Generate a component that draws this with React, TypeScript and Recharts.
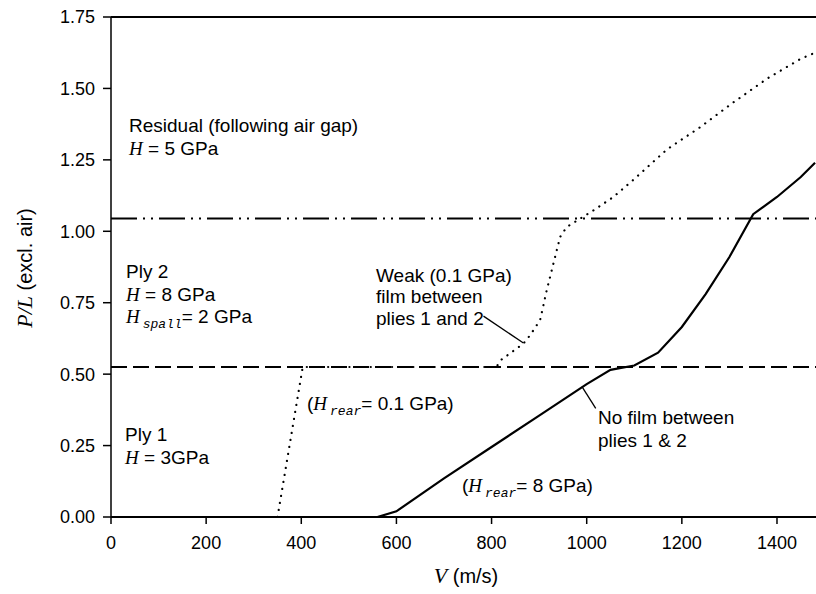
import { Customized, Line, LineChart, ReferenceLine, XAxis, YAxis } from 'recharts'

const SANS = "'Liberation Sans', Arial, Helvetica, sans-serif"
const SERIF = "'Liberation Serif', 'Times New Roman', serif"
const MONO = "'Liberation Mono', 'Courier New', monospace"

const xTicks = [0, 200, 400, 600, 800, 1000, 1200, 1400]
const yTicks = [0, 0.25, 0.5, 0.75, 1, 1.25, 1.5, 1.75]

// ply boundaries, P/L
const ply1Top = 0.525
const ply2Top = 1.045
const residualTop = 1.75

// no film between plies 1 & 2 (H_rear = 8 GPa)
const noFilmV = [0, 560, 600, 700, 800, 900, 1000, 1050, 1100, 1150, 1200, 1250, 1300, 1350, 1400, 1450, 1480]
const noFilmPL = [0, 0, 0.02, 0.135, 0.245, 0.355, 0.465, 0.515, 0.53, 0.575, 0.665, 0.78, 0.91, 1.06, 1.12, 1.19, 1.24]

// weak (0.1 GPa) film between plies 1 and 2 (H_rear = 0.1 GPa)
const weakV = [350, 403, 810, 820, 867, 881, 902, 916, 930, 944, 958, 986, 1014, 1056, 1098, 1169, 1239, 1309, 1379, 1449, 1480]
const weakPL = [0, 0.525, 0.525, 0.55, 0.607, 0.636, 0.689, 0.794, 0.887, 0.98, 1.015, 1.044, 1.073, 1.12, 1.18, 1.287, 1.365, 1.452, 1.534, 1.603, 1.625]

const noFilm = noFilmV.map((v, i) => ({ v, pl: noFilmPL[i] }))
const weak = weakV.map((v, i) => ({ v, pl: weakPL[i] }))

function HText({ x, y, sub, rest }: { x: number; y: number; sub?: string; rest: string }) {
  return (
    <text x={x} y={y} fontSize={19} fontFamily={SANS} fill="#000">
      <tspan fontFamily={SERIF} fontStyle="italic">H</tspan>
      {sub ? (
        <>
          <tspan dx={3} dy={5} fontFamily={MONO} fontStyle="italic" fontSize={13}>{sub}</tspan>
          <tspan dy={-5}>{rest}</tspan>
        </>
      ) : (
        <tspan>{rest}</tspan>
      )}
    </text>
  )
}

function Plain({ x, y, children }: { x: number; y: number; children: string }) {
  return (
    <text x={x} y={y} fontSize={19} fontFamily={SANS} fill="#000">{children}</text>
  )
}

function Annotations() {
  return (
    <g>
      <Plain x={129} y={132}>Residual (following air gap)</Plain>
      <HText x={129} y={155} rest=" = 5 GPa" />

      <Plain x={126} y={278}>Ply 2</Plain>
      <HText x={126} y={301} rest=" = 8 GPa" />
      <HText x={126} y={323} sub="spall" rest="= 2 GPa" />

      <Plain x={125} y={441}>Ply 1</Plain>
      <HText x={125} y={464} rest=" = 3GPa" />

      <text x={307} y={410} fontSize={19} fontFamily={SANS} fill="#000">
        (<tspan fontFamily={SERIF} fontStyle="italic">H</tspan>
        <tspan dx={3} dy={5} fontFamily={MONO} fontStyle="italic" fontSize={13}>rear</tspan>
        <tspan dy={-5}>= 0.1 GPa)</tspan>
      </text>

      <Plain x={376} y={282}>Weak (0.1 GPa)</Plain>
      <Plain x={376} y={303}>film between</Plain>
      <Plain x={376} y={325}>plies 1 and 2</Plain>

      <Plain x={598} y={424}>No film between</Plain>
      <Plain x={598} y={447}>plies 1 &amp; 2</Plain>

      <text x={462} y={492} fontSize={19} fontFamily={SANS} fill="#000">
        (<tspan fontFamily={SERIF} fontStyle="italic">H</tspan>
        <tspan dx={3} dy={5} fontFamily={MONO} fontStyle="italic" fontSize={13}>rear</tspan>
        <tspan dy={-5}>= 8 GPa)</tspan>
      </text>

      <text x={466} y={583} textAnchor="middle" fontSize={20} fontFamily={SANS} fill="#000">
        <tspan fontFamily={SERIF} fontStyle="italic" fontSize={22}>V</tspan>
        <tspan> (m/s)</tspan>
      </text>

      <text
        x={32}
        y={268}
        textAnchor="middle"
        transform="rotate(-90, 32, 268)"
        fontSize={20}
        fontFamily={SANS}
        fill="#000"
      >
        <tspan fontFamily={SERIF} fontStyle="italic" fontSize={22}>P/L</tspan>
        <tspan> (excl. air)</tspan>
      </text>
    </g>
  )
}

export default function App() {
  return (
    <div style={{ width: 816, height: 594, background: '#fff' }}>
      <style>{'body{margin:0}'}</style>
      <LineChart width={816} height={594} margin={{ top: 17, right: 0, bottom: 0, left: 0 }}>
        <XAxis
          dataKey="v"
          type="number"
          domain={[0, 1482]}
          ticks={xTicks}
          allowDataOverflow
          height={77}
          tickSize={7}
          tickMargin={12}
          axisLine={{ stroke: '#000', strokeWidth: 1.8 }}
          tickLine={{ stroke: '#000', strokeWidth: 1.5 }}
          tick={{ fill: '#000', fontSize: 18, fontFamily: SANS }}
        />
        <YAxis
          type="number"
          domain={[0, 1.75]}
          ticks={yTicks}
          allowDataOverflow
          width={111}
          tickSize={8}
          tickMargin={8}
          tickFormatter={(v: number) => v.toFixed(2)}
          axisLine={{ stroke: '#000', strokeWidth: 1.5 }}
          tickLine={{ stroke: '#000', strokeWidth: 1.5 }}
          tick={{ fill: '#000', fontSize: 18, fontFamily: SANS }}
        />
        <ReferenceLine y={residualTop} stroke="#000" strokeWidth={1.8} />
        <ReferenceLine y={ply2Top} stroke="#000" strokeWidth={2} strokeDasharray="26 6 2 6 2 6" />
        <ReferenceLine y={ply1Top} stroke="#000" strokeWidth={2} strokeDasharray="16 6" />
        <ReferenceLine
          segment={[{ x: 783, y: 0.703 }, { x: 867, y: 0.609 }]}
          stroke="#000"
          strokeWidth={1.3}
        />
        <ReferenceLine
          segment={[{ x: 990, y: 0.456 }, { x: 1019, y: 0.38 }]}
          stroke="#000"
          strokeWidth={1.3}
        />
        <Line
          data={weak}
          dataKey="pl"
          type="linear"
          stroke="#000"
          strokeWidth={2.2}
          strokeDasharray="0.1 7"
          strokeLinecap="round"
          dot={false}
          activeDot={false}
          isAnimationActive={false}
        />
        <Line
          data={noFilm}
          dataKey="pl"
          type="linear"
          stroke="#000"
          strokeWidth={2.2}
          dot={false}
          activeDot={false}
          isAnimationActive={false}
        />
        <Customized component={<Annotations />} />
      </LineChart>
    </div>
  )
}
